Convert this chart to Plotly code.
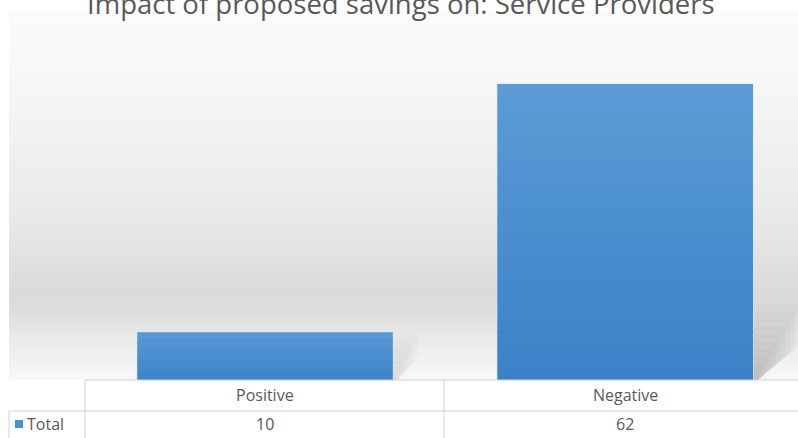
import plotly.graph_objects as go

# ---- data ----
categories = ["Positive", "Negative"]
totals = [10, 62]
series_name = "Total"
title_text = "Impact of proposed savings on: Service Providers"

W, H = 798, 438
TEXT = "#595959"
GRID = "#cfcfcf"
FONT = "Open Sans"


def px(x):
    return x / W


def py(y):
    return 1 - y / H


def lerp(stops, v):
    for (a, ca), (b, cb) in zip(stops, stops[1:]):
        if a <= v <= b:
            t = (v - a) / (b - a) if b > a else 0
            return tuple(ca[k] + (cb[k] - ca[k]) * t for k in range(3))
    return stops[-1][1]


def rgb(c):
    return "rgb(%d,%d,%d)" % tuple(round(v) for v in c)


shapes = []

# back wall / floor shading
wall = [(10, (251,) * 3), (60, (249,) * 3), (130, (242,) * 3), (200, (235,) * 3),
        (250, (227,) * 3), (295, (218,) * 3), (310, (221,) * 3), (340, (234,) * 3),
        (380, (248,) * 3)]
y = 10
while y < 380:
    y2 = min(y + 2, 380)
    shapes.append(dict(type="rect", xref="paper", yref="paper", layer="below",
                       x0=px(9), x1=1, y0=py(y2), y1=py(y), line_width=0,
                       fillcolor=rgb(lerp(wall, (y + y2) / 2))))
    y = y2

# soft shadow to the right of each bar, fading away from the bar
BAR_W = 0.71
for i, v in enumerate(totals):
    h = min(v, 16)
    reach = 0.13 if v > 30 else 0.07
    alpha = 0.022 if v > 30 else 0.01
    n = 10
    for k in range(n):
        f = 1 - k / n
        xr = i + BAR_W / 2 + reach * f
        shapes.append(dict(type="path", xref="x", yref="y", layer="below",
                           path="M %f,%f L %f,%f L %f,%f L %f,0 L %f,0 Z" % (
                               i + BAR_W / 2, h * f, xr, h * f,
                               xr, h * 0.45 * f,
                               i + BAR_W / 2 + 0.015, i + BAR_W / 2),
                           fillcolor="rgba(0,0,0,%.3f)" % alpha, line_width=0))

# bar fill gradient
top_c, bot_c = (92, 156, 214), (58, 129, 199)
for i, v in enumerate(totals):
    n = 40
    for k in range(n):
        y0 = v * k / n
        y1 = v * (k + 1) / n
        t = (k + 0.5) / n
        c = tuple(bot_c[j] + (top_c[j] - bot_c[j]) * t for j in range(3))
        shapes.append(dict(type="rect", xref="x", yref="y", layer="above",
                           x0=i - BAR_W / 2, x1=i + BAR_W / 2, y0=y0, y1=y1,
                           line_width=0, fillcolor=rgb(c)))

# data table grid
lines = [
    (85, 380, 798, 380),
    (9, 411, 798, 411),
    (85, 380, 85, 438),
    (444, 380, 444, 438),
    (9, 411, 9, 438),
]
for x0, y0, x1, y1 in lines:
    shapes.append(dict(type="line", xref="paper", yref="paper", layer="above",
                       x0=px(x0), y0=py(y0), x1=px(x1), y1=py(y1),
                       line=dict(color=GRID, width=1)))

# legend key in table
shapes.append(dict(type="rect", xref="paper", yref="paper", layer="above",
                   x0=px(15), x1=px(23), y0=py(428), y1=py(420),
                   fillcolor="#4a8fd1", line_width=0))

fig = go.Figure(go.Bar(
    x=categories, y=totals, name=series_name, width=BAR_W,
    marker=dict(color="#4a8fd1", line=dict(color="#d8ebf9", width=1)),
    showlegend=False, hoverinfo="x+y",
))

annotations = [dict(text=title_text, xref="paper", yref="paper", x=px(401), y=py(3.5),
                    xanchor="center", yanchor="middle", showarrow=False,
                    font=dict(family=FONT, size=27.5, color=TEXT))]
for i, (c, v) in enumerate(zip(categories, totals)):
    annotations.append(dict(text=c, xref="x", yref="paper", x=i, y=py(395),
                            xanchor="center", yanchor="middle", showarrow=False,
                            font=dict(family=FONT, size=16, color=TEXT)))
    annotations.append(dict(text=str(v), xref="x", yref="paper", x=i, y=py(424),
                            xanchor="center", yanchor="middle", showarrow=False,
                            font=dict(family=FONT, size=16, color=TEXT)))
annotations.append(dict(text=series_name, xref="paper", yref="paper", x=px(25), y=py(424),
                        xanchor="left", yanchor="middle", showarrow=False,
                        font=dict(family=FONT, size=16, color=TEXT)))

fig.update_layout(
    width=W, height=H,
    margin=dict(l=0, r=0, t=0, b=0),
    paper_bgcolor="white", plot_bgcolor="rgba(0,0,0,0)",
    xaxis=dict(domain=[px(85), 1], range=[-0.5, 1.48], visible=False,
               fixedrange=True),
    yaxis=dict(domain=[py(380), py(10)], range=[0, 77.5], visible=False,
               fixedrange=True),
    shapes=shapes,
    annotations=annotations,
    bargap=0.29,
)

fig.write_html("out.html")
